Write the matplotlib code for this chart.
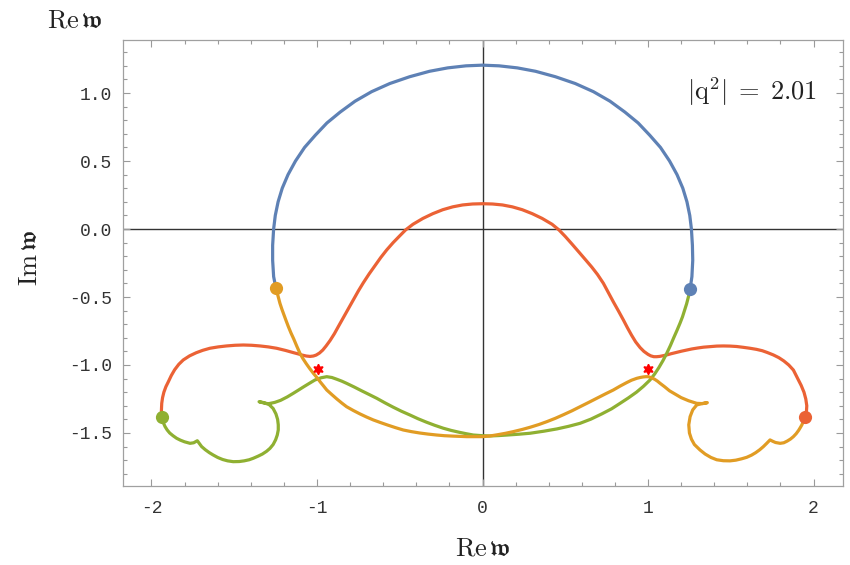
import matplotlib
matplotlib.use("Agg")
import matplotlib.pyplot as plt
from matplotlib.ticker import MultipleLocator

plt.rcParams["mathtext.fontset"] = "cm"

# Mode trajectories in the complex frequency plane (Re w, Im w)
blue_x = [1.254, 1.265, 1.270, 1.268, 1.262, 1.252, 1.235, 1.21, 1.175, 1.13, 1.075, 1.01,
          0.94, 0.86, 0.77, 0.67, 0.56, 0.44, 0.32, 0.21, 0.10, 0.0,
          -0.10, -0.21, -0.32, -0.44, -0.56, -0.67, -0.77, -0.86, -0.94, -1.01, -1.075,
          -1.13, -1.175, -1.21, -1.235, -1.252, -1.262, -1.268, -1.268, -1.262, -1.248]
blue_y = [-0.443, -0.35, -0.23, -0.12, 0.0, 0.10, 0.20, 0.30, 0.40, 0.50, 0.60, 0.69,
          0.78, 0.86, 0.94, 1.01, 1.07, 1.12, 1.16, 1.185, 1.20, 1.205,
          1.20, 1.185, 1.16, 1.12, 1.07, 1.01, 0.94, 0.86, 0.78, 0.69, 0.60,
          0.50, 0.40, 0.30, 0.20, 0.10, 0.0, -0.12, -0.23, -0.35, -0.436]

red_x = [1.949, 1.957, 1.959, 1.953, 1.942, 1.925, 1.90, 1.878, 1.85, 1.82, 1.79, 1.757,
         1.72, 1.69, 1.655, 1.616, 1.575, 1.535, 1.495, 1.455, 1.415, 1.375, 1.335, 1.30,
         1.265, 1.234, 1.20, 1.17, 1.14, 1.113, 1.09, 1.07, 1.052, 1.035, 1.017, 1.0,
         0.975, 0.952, 0.925, 0.90, 0.875, 0.851, 0.82, 0.79, 0.76, 0.73, 0.695, 0.66,
         0.625, 0.589, 0.54, 0.50, 0.462, 0.42, 0.36, 0.30, 0.24, 0.18, 0.12, 0.06, 0.0,
         -0.06, -0.12, -0.18, -0.24, -0.30, -0.36, -0.42, -0.465, -0.50, -0.54, -0.579,
         -0.615, -0.65, -0.685, -0.72, -0.75, -0.78, -0.81, -0.84, -0.87, -0.895, -0.921,
         -0.945, -0.965, -0.985, -1.005, -1.022, -1.042, -1.065, -1.09, -1.115, -1.143,
         -1.19, -1.244, -1.294, -1.344, -1.395, -1.445, -1.495, -1.547, -1.597, -1.647,
         -1.69, -1.73, -1.77, -1.808, -1.835, -1.86, -1.88, -1.898, -1.913, -1.925,
         -1.933, -1.938, -1.940, -1.938]
red_y = [-1.385, -1.34, -1.30, -1.25, -1.20, -1.15, -1.09, -1.037, -1.0, -0.97, -0.946, -0.926,
         -0.908, -0.895, -0.885, -0.877, -0.870, -0.864, -0.861, -0.860, -0.861, -0.865, -0.869, -0.875,
         -0.882, -0.890, -0.899, -0.908, -0.917, -0.926, -0.932, -0.937, -0.939, -0.939, -0.933, -0.922,
         -0.90, -0.872, -0.83, -0.78, -0.725, -0.669, -0.60, -0.535, -0.467, -0.399, -0.335, -0.28,
         -0.23, -0.179, -0.11, -0.055, -0.007, 0.035, 0.078, 0.113, 0.142, 0.163, 0.177, 0.184, 0.186,
         0.184, 0.177, 0.163, 0.142, 0.113, 0.078, 0.035, -0.007, -0.05, -0.10, -0.154,
         -0.21, -0.27, -0.33, -0.395, -0.455, -0.52, -0.585, -0.65, -0.715, -0.77, -0.82,
         -0.86, -0.89, -0.912, -0.927, -0.934, -0.937, -0.934, -0.927, -0.918, -0.909,
         -0.893, -0.877, -0.867, -0.860, -0.855, -0.853, -0.855, -0.860, -0.867, -0.877,
         -0.892, -0.91, -0.933, -0.963, -0.995, -1.035, -1.077, -1.123, -1.16, -1.20,
         -1.24, -1.282, -1.335, -1.385]

orange_x = [-1.248, -1.236, -1.224, -1.212, -1.20, -1.187, -1.173, -1.157, -1.14, -1.122,
            -1.103, -1.085, -1.065, -1.044, -1.022, -1.0, -0.98, -0.96, -0.941, -0.91,
            -0.88, -0.85, -0.821, -0.78, -0.74, -0.70, -0.66, -0.615, -0.57, -0.525,
            -0.479, -0.43, -0.38, -0.33, -0.277, -0.23, -0.18, -0.135, -0.095, -0.045, 0.0,
            0.045, 0.09, 0.14, 0.186, 0.24, 0.29, 0.34, 0.388, 0.44, 0.49, 0.54, 0.589,
            0.64, 0.69, 0.74, 0.79, 0.83, 0.87, 0.90, 0.932, 0.952, 0.97, 0.986, 1.002,
            1.02, 1.04, 1.057, 1.073, 1.10, 1.13, 1.165, 1.20, 1.245, 1.294, 1.33, 1.358,
            1.32, 1.294, 1.27, 1.254, 1.246, 1.25, 1.262, 1.28, 1.314, 1.345, 1.38, 1.415,
            1.455, 1.495, 1.53, 1.565, 1.596, 1.625, 1.65, 1.675, 1.697, 1.717, 1.737,
            1.755, 1.77, 1.798, 1.82, 1.84, 1.86, 1.878, 1.895, 1.91, 1.92, 1.929, 1.94, 1.949]
orange_y = [-0.436, -0.49, -0.546, -0.59, -0.63, -0.673, -0.718, -0.765, -0.81, -0.862,
            -0.914, -0.953, -0.99, -1.026, -1.061, -1.093, -1.125, -1.155, -1.184, -1.218,
            -1.25, -1.28, -1.307, -1.335, -1.36, -1.383, -1.404, -1.424, -1.443, -1.461,
            -1.478, -1.49, -1.50, -1.508, -1.515, -1.52, -1.523, -1.525, -1.527, -1.527, -1.527,
            -1.522, -1.513, -1.502, -1.490, -1.474, -1.457, -1.438, -1.417, -1.392, -1.365, -1.337, -1.307,
            -1.276, -1.245, -1.214, -1.184, -1.156, -1.13, -1.112, -1.098, -1.092, -1.088, -1.086, -1.086,
            -1.094, -1.105, -1.119, -1.135, -1.16, -1.19, -1.215, -1.24, -1.263, -1.282, -1.284, -1.277,
            -1.285, -1.294, -1.33, -1.38, -1.44, -1.50, -1.545, -1.585, -1.625, -1.655, -1.68, -1.697,
            -1.704, -1.705, -1.70, -1.69, -1.679, -1.663, -1.645, -1.623, -1.60, -1.576, -1.551,
            -1.562, -1.57, -1.576, -1.572, -1.56, -1.545, -1.527, -1.505, -1.48, -1.46, -1.441, -1.41, -1.385]

green_x = [-1.938, -1.934, -1.93, -1.918, -1.905, -1.89, -1.87, -1.848, -1.825, -1.80,
           -1.767, -1.745, -1.723, -1.697, -1.675, -1.65, -1.627, -1.60, -1.57, -1.54,
           -1.506, -1.47, -1.44, -1.41, -1.385, -1.355, -1.33, -1.305, -1.284, -1.265,
           -1.25, -1.24, -1.234, -1.234, -1.238, -1.248, -1.265, -1.29, -1.32, -1.350,
           -1.31, -1.29, -1.255, -1.22, -1.18, -1.143, -1.11, -1.08, -1.045, -1.012,
           -0.975, -0.941, -0.91, -0.88, -0.85, -0.821, -0.775, -0.73, -0.685, -0.639,
           -0.59, -0.54, -0.49, -0.438, -0.39, -0.34, -0.29, -0.237, -0.19, -0.14, -0.10,
           -0.056, 0.0, 0.045, 0.10, 0.15, 0.22, 0.287, 0.37, 0.45, 0.52, 0.589, 0.655,
           0.72, 0.78, 0.831, 0.88, 0.93, 0.972, 1.012, 1.04, 1.065, 1.09, 1.113, 1.135,
           1.155, 1.175, 1.193, 1.208, 1.22, 1.233, 1.244, 1.254]
green_y = [-1.385, -1.40, -1.42, -1.453, -1.478, -1.50, -1.52, -1.539, -1.553, -1.565,
           -1.576, -1.572, -1.557, -1.60, -1.623, -1.645, -1.662, -1.68, -1.695, -1.705,
           -1.711, -1.71, -1.705, -1.697, -1.686, -1.67, -1.655, -1.635, -1.613, -1.585,
           -1.55, -1.515, -1.478, -1.44, -1.40, -1.36, -1.32, -1.29, -1.277, -1.270,
           -1.283, -1.284, -1.275, -1.26, -1.235, -1.208, -1.183, -1.16, -1.134, -1.110,
           -1.094, -1.086, -1.092, -1.105, -1.119, -1.135, -1.162, -1.19, -1.217, -1.245,
           -1.278, -1.31, -1.34, -1.368, -1.395, -1.42, -1.443, -1.465, -1.481, -1.495, -1.505,
           -1.515, -1.52, -1.522, -1.519, -1.515, -1.509, -1.502, -1.487, -1.47, -1.451, -1.429, -1.398,
           -1.36, -1.322, -1.282, -1.243, -1.20, -1.157, -1.110, -1.066, -1.02, -0.968, -0.914, -0.857,
           -0.80, -0.745, -0.693, -0.646, -0.60, -0.55, -0.498, -0.443]

# Starting points of the four modes
dot_x = [1.254, -1.248, -1.938, 1.949]
dot_y = [-0.443, -0.436, -1.385, -1.385]

# Marked points
star_x = [-0.996, 0.998]
star_y = [-1.032, -1.032]

x_ticks = [-2, -1, 0, 1, 2]
x_tick_labels = ["-2", "-1", "0", "1", "2"]
y_ticks = [1.0, 0.5, 0.0, -0.5, -1.0, -1.5]
y_tick_labels = ["1.0", "0.5", "0.0", "-0.5", "-1.0", "-1.5"]

c_blue = "#5E81B5"
c_orange = "#E19C24"
c_green = "#8FB032"
c_red = "#EB6235"

fig = plt.figure(figsize=(8.5, 5.65), dpi=100)
ax = fig.add_axes([0.1451, 0.1398, 0.8471, 0.7894])

ax.axhline(0, color="#333333", lw=1.0, zorder=1)
ax.axvline(0, color="#333333", lw=1.0, zorder=1)

line_kw = dict(lw=2.3, solid_capstyle="round", solid_joinstyle="round", zorder=2)
ax.plot(blue_x, blue_y, color=c_blue, **line_kw)
ax.plot(red_x, red_y, color=c_red, **line_kw)
ax.plot(green_x, green_y, color=c_green, **line_kw)
ax.plot(orange_x, orange_y, color=c_orange, **line_kw)

for x, y, c in zip(dot_x, dot_y, [c_blue, c_orange, c_green, c_red]):
    ax.plot([x], [y], "o", color=c, ms=9.5, mec="none", zorder=3)

ax.plot(star_x, star_y, ls="none", marker=(6, 1, 0), color="red", ms=7.5, zorder=4)

ax.set_xlim(-2.17, 2.18)
ax.set_ylim(-1.89, 1.39)

ax.set_xticks(x_ticks)
ax.set_xticklabels(x_tick_labels)
ax.set_yticks(y_ticks)
ax.set_yticklabels(y_tick_labels)
ax.xaxis.set_minor_locator(MultipleLocator(0.2))
ax.yaxis.set_minor_locator(MultipleLocator(0.1))

ax.tick_params(which="both", direction="in", top=True, right=True,
               color="#9a9a9a", width=0.8)
ax.tick_params(which="major", length=5)
ax.tick_params(which="minor", length=2.8)
ax.tick_params(axis="x", which="major", pad=10)
ax.tick_params(axis="y", which="major", pad=8)
for lab in ax.get_xticklabels() + ax.get_yticklabels():
    lab.set_family("Liberation Mono")
    lab.set_fontsize(13)
    lab.set_color("#333333")

for sp in ax.spines.values():
    sp.set_color("#a0a0a0")
    sp.set_linewidth(0.9)

ax.text(0.963, 0.885, r"$|\mathrm{q}^2|\;=\;2.01$", transform=ax.transAxes,
        ha="right", va="center", fontsize=19, color="#222222")

fig.text(75 / 850, 1 - 20 / 565, r"$\mathrm{Re}\,\mathfrak{w}$", ha="center",
         va="center", fontsize=19, color="#222222")
fig.text(483 / 850, 1 - 548 / 565, r"$\mathrm{Re}\,\mathfrak{w}$", ha="center",
         va="center", fontsize=19, color="#222222")
fig.text(30 / 850, 1 - 258 / 565, r"$\mathrm{Im}\,\mathfrak{w}$", ha="center",
         va="center", fontsize=19, color="#222222", rotation=90)

fig.savefig("out.png", dpi=100)
